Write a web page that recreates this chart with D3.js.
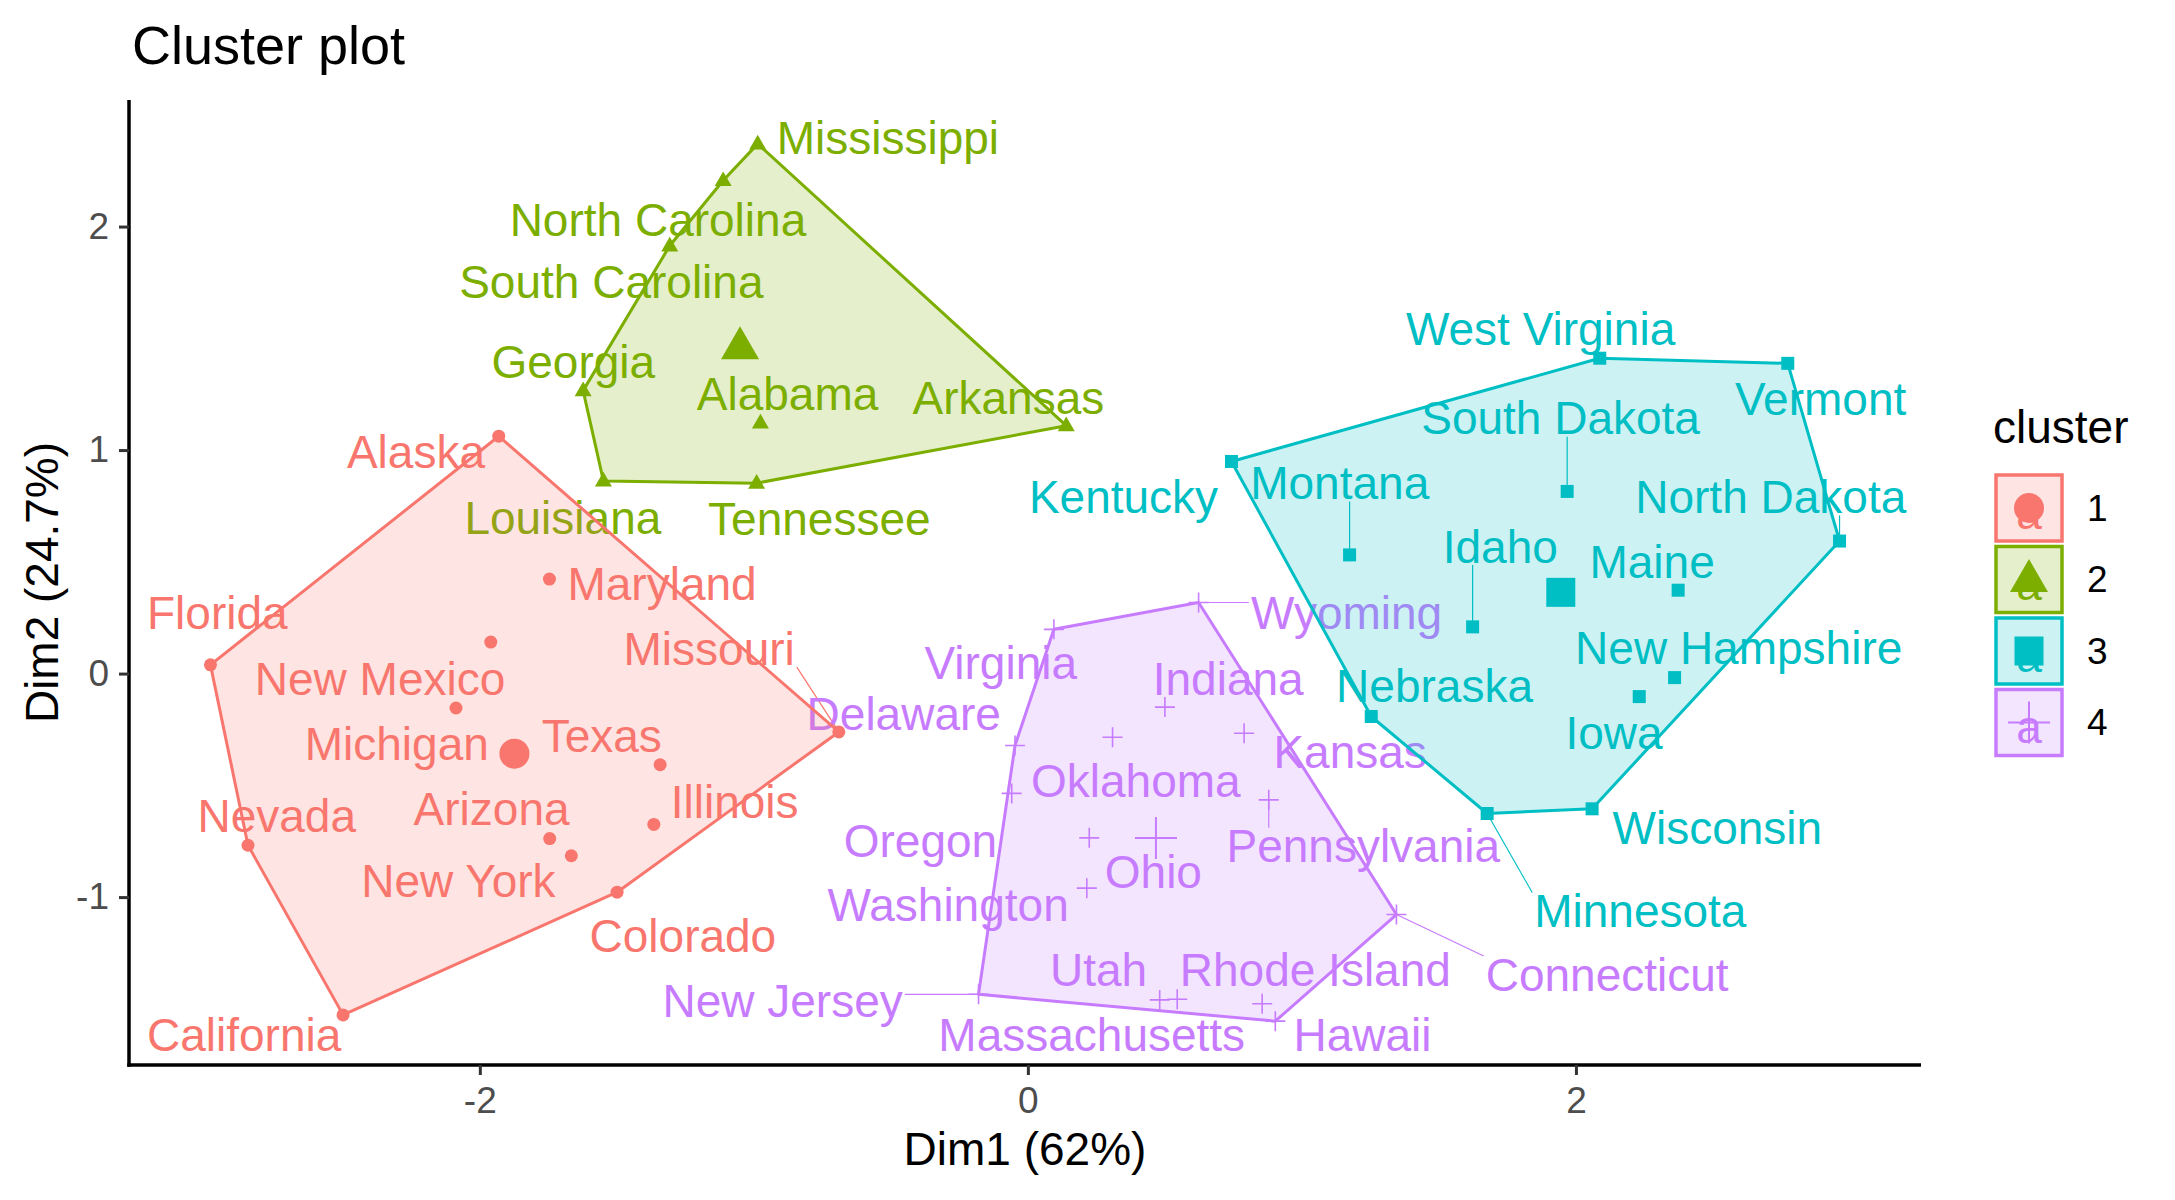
<!DOCTYPE html>
<html>
<head>
<meta charset="utf-8">
<script src="https://cdn.jsdelivr.net/npm/d3@7"></script>
<style>
  html, body { margin: 0; padding: 0; background: #ffffff; }
  svg { display: block; font-family: "Liberation Sans", Arial, sans-serif; }
</style>
</head>
<body>
<svg id="chart" width="2175" height="1200"></svg>
<script>
// ---------------- DATA ----------------
const states = ["Alabama","Alaska","Arizona","Arkansas","California","Colorado","Connecticut","Delaware","Florida","Georgia","Hawaii","Idaho","Illinois","Indiana","Iowa","Kansas","Kentucky","Louisiana","Maine","Maryland","Massachusetts","Michigan","Minnesota","Mississippi","Missouri","Montana","Nebraska","Nevada","New Hampshire","New Jersey","New Mexico","New York","North Carolina","North Dakota","Ohio","Oklahoma","Oregon","Pennsylvania","Rhode Island","South Carolina","South Dakota","Tennessee","Texas","Utah","Vermont","Virginia","Washington","West Virginia","Wisconsin","Wyoming"];
const dim1 = [-0.976,-1.931,-1.745,0.140,-2.499,-1.499,1.345,-0.047,-2.983,-1.623,0.903,1.623,-1.365,0.500,2.231,0.789,0.743,-1.549,2.373,-1.746,0.481,-2.087,1.676,-0.986,-0.690,1.174,1.253,-2.846,2.360,-0.180,-1.960,-1.666,-1.112,2.962,0.224,0.309,-0.059,0.879,0.855,-1.307,1.968,-0.990,-1.342,0.545,2.773,0.095,0.215,2.087,2.059,0.623];
const dim2 = [1.122,1.062,-0.738,1.109,-1.527,-0.978,-1.078,-0.322,0.039,1.266,-1.555,0.209,-0.675,-0.150,-0.103,-0.267,0.949,0.862,0.373,0.423,-1.460,-0.154,-0.626,2.370,-0.261,0.531,-0.192,-0.768,-0.018,-1.435,0.141,-0.815,2.206,0.593,-0.735,-0.285,-0.536,-0.565,-1.477,1.914,0.815,0.852,-0.408,-1.457,1.388,0.198,-0.960,1.411,-0.605,0.318];
const cluster = [2,1,1,2,1,1,4,4,1,2,4,3,1,4,3,4,3,2,3,1,4,1,3,2,1,3,3,1,3,4,1,1,2,3,4,4,4,4,4,2,3,2,1,4,3,4,4,3,3,4];
// label positions (text centres, in data units)
const labelX = [-0.877,-2.233,-1.957,-0.071,-2.860,-1.259,2.114,-0.453,-2.958,-1.659,1.221,1.724,-1.070,0.731,2.139,1.176,0.349,-1.697,2.278,-1.335,0.233,-2.303,2.235,-0.511,-1.163,1.138,1.484,-2.741,2.594,-0.895,-2.364,-2.078,-1.350,2.711,0.458,0.394,-0.392,1.224,1.049,-1.520,1.944,-0.761,-1.555,0.258,2.893,-0.099,-0.291,1.871,2.516,1.163];
const labelY = [1.253,0.994,-0.605,1.235,-1.617,-1.173,-1.346,-0.179,0.272,1.395,-1.617,0.568,-0.574,-0.025,-0.265,-0.352,0.790,0.698,0.500,0.401,-1.617,-0.315,-1.062,2.395,0.111,0.852,-0.056,-0.636,0.117,-1.463,-0.025,-0.926,2.031,0.790,-0.889,-0.481,-0.747,-0.772,-1.327,1.753,1.142,0.691,-0.278,-1.327,1.228,0.049,-1.037,1.543,-0.691,0.272];
// labels that are joined to their point by a leader line in the picture
const leaderLabels = ["Missouri","Idaho","Montana","South Dakota","North Dakota","Minnesota","Wyoming","Pennsylvania","Connecticut","New Jersey"];
const clusterIds = [1,2,3,4];
const clusterColors = ["#F8766D","#7CAE00","#00BFC4","#C77CFF"];
const clusterShapes = ["circle","triangle","square","plus"];
const xTicks = [-2,0,2];
const yTicks = [-1,0,1,2];
const titleText = "Cluster plot";
const xTitle = "Dim1 (62%)";
const yTitle = "Dim2 (24.7%)";
const legendTitle = "cluster";

// ---------------- LAYOUT ----------------
const svg = d3.select("#chart");
const P = {left: 129, right: 1921, top: 100, bottom: 1065};
const pad = (e) => { const d = (e[1]-e[0])*0.05; return [e[0]-d, e[1]+d]; };
const x = d3.scaleLinear().domain(pad(d3.extent(dim1))).range([P.left, P.right]);
const y = d3.scaleLinear().domain(pad(d3.extent(dim2))).range([P.bottom, P.top]);
const color = d3.scaleOrdinal().domain(clusterIds).range(clusterColors);
const shape = d3.scaleOrdinal().domain(clusterIds).range(clusterShapes);

const rows = states.map((s,i) => ({name:s, d1:dim1[i], d2:dim2[i], cl:cluster[i], lx:labelX[i], ly:labelY[i]}));
const centers = clusterIds.map(c => {
  const m = rows.filter(r => r.cl === c);
  return {cl:c, d1:d3.mean(m, r=>r.d1), d2:d3.mean(m, r=>r.d2)};
});

function drawShape(g, kind, cx, cy, big, col) {
  if (kind === "circle") {
    g.append("circle").attr("cx",cx).attr("cy",cy).attr("r", big ? 15 : 6.5).attr("fill",col);
  } else if (kind === "square") {
    const s = big ? 29 : 13;
    g.append("rect").attr("x",cx-s/2).attr("y",cy-s/2).attr("width",s).attr("height",s).attr("fill",col);
  } else if (kind === "triangle") {
    const w = big ? 38 : 17, h = w*0.866;
    g.append("path").attr("d",`M${cx},${cy-h*0.62}L${cx+w/2},${cy+h*0.38}L${cx-w/2},${cy+h*0.38}Z`).attr("fill",col);
  } else {
    const a = big ? 21 : 10;
    g.append("path").attr("d",`M${cx-a},${cy}H${cx+a}M${cx},${cy-a}V${cy+a}`)
      .attr("stroke",col).attr("stroke-width", big ? 2 : 1.6).attr("fill","none");
  }
}

// ---------------- POINTS ----------------
const gPts = svg.append("g");
rows.forEach(r => drawShape(gPts, shape(r.cl), x(r.d1), y(r.d2), false, color(r.cl)));

// ---------------- LABELS + SEGMENTS ----------------
const FS = 46;
const gSeg = svg.append("g");
const gLab = svg.append("g");
rows.forEach(r => {
  const cx = x(r.lx), cy = y(r.ly);
  const t = gLab.append("text").attr("x",cx).attr("y",cy).attr("dy","0.35em")
    .attr("text-anchor","middle").attr("font-size",FS).attr("fill",color(r.cl)).text(r.name);
  if (!leaderLabels.includes(r.name)) return;
  const w = t.node().getComputedTextLength();
  const hw = w/2 + 2, hh = FS*0.40;
  const px = x(r.d1), py = y(r.d2);
  const nx = Math.max(cx-hw, Math.min(px, cx+hw));
  const ny = Math.max(cy-hh, Math.min(py, cy+hh));
  gSeg.append("line").attr("x1",px).attr("y1",py).attr("x2",nx).attr("y2",ny)
    .attr("stroke",color(r.cl)).attr("stroke-width",1.2);
});

// ---------------- HULLS ----------------
const gHull = svg.append("g");
clusterIds.forEach(c => {
  const pts = rows.filter(r => r.cl === c).map(r => [x(r.d1), y(r.d2)]);
  const hull = d3.polygonHull(pts);
  gHull.append("path").attr("d", "M" + hull.join("L") + "Z")
    .attr("fill", color(c)).attr("fill-opacity",0.2)
    .attr("stroke", color(c)).attr("stroke-width",3).attr("stroke-linejoin","round");
});

// ---------------- CENTERS ----------------
const gCen = svg.append("g");
centers.forEach(c => drawShape(gCen, shape(c.cl), x(c.d1), y(c.d2), true, color(c.cl)));

// ---------------- AXES ----------------
const xAxis = svg.append("g").attr("transform",`translate(0,${P.bottom})`)
  .call(d3.axisBottom(x).tickValues(xTicks).tickFormat(d => String(d)).tickSize(10).tickSizeOuter(0).tickPadding(12));
const yAxis = svg.append("g").attr("transform",`translate(${P.left},0)`)
  .call(d3.axisLeft(y).tickValues(yTicks).tickFormat(d => String(d)).tickSize(10).tickSizeOuter(0).tickPadding(10));
[xAxis, yAxis].forEach(a => {
  a.select(".domain").attr("stroke","#000").attr("stroke-width",3.5);
  a.selectAll(".tick line").attr("stroke","#333333").attr("stroke-width",3);
  a.selectAll(".tick text").attr("fill","#4D4D4D").attr("font-size",37)
    .attr("font-family","'Liberation Sans', Arial, sans-serif");
});
xAxis.select(".domain").attr("d",`M${P.left-1.75},0H${P.right}`);
yAxis.select(".domain").attr("d",`M0,${P.top}V${P.bottom+1.75}`);

// ---------------- TITLES ----------------
svg.append("text").attr("x",132).attr("y",64).attr("font-size",54).attr("fill","#000").text(titleText);
svg.append("text").attr("x",(P.left+P.right)/2).attr("y",1165).attr("text-anchor","middle")
  .attr("font-size",46).attr("fill","#000").text(xTitle);
svg.append("text").attr("transform",`translate(58,${(P.top+P.bottom)/2}) rotate(-90)`)
  .attr("text-anchor","middle").attr("font-size",46).attr("fill","#000").text(yTitle);

// ---------------- LEGEND ----------------
const gLeg = svg.append("g");
gLeg.append("text").attr("x",1993).attr("y",443).attr("font-size",46).attr("fill","#000").text(legendTitle);
clusterIds.forEach((c,i) => {
  const top = 475 + i*71.5, kx = 1996, ks = 66;
  const g = gLeg.append("g");
  g.append("rect").attr("x",kx).attr("y",top).attr("width",ks).attr("height",ks)
    .attr("fill",color(c)).attr("fill-opacity",0.2).attr("stroke",color(c)).attr("stroke-width",3.5);
  g.append("text").attr("x",kx+ks/2).attr("y",top+ks/2).attr("dy","0.45em").attr("text-anchor","middle")
    .attr("font-size",46).attr("fill",color(c)).text("a");
  drawShape(g, shape(c), kx+ks/2, top+ks/2, true, color(c));
  gLeg.append("text").attr("x",2087).attr("y",top+ks/2).attr("dy","0.35em")
    .attr("font-size",37).attr("fill","#000").text(String(c));
});
</script>
</body>
</html>
